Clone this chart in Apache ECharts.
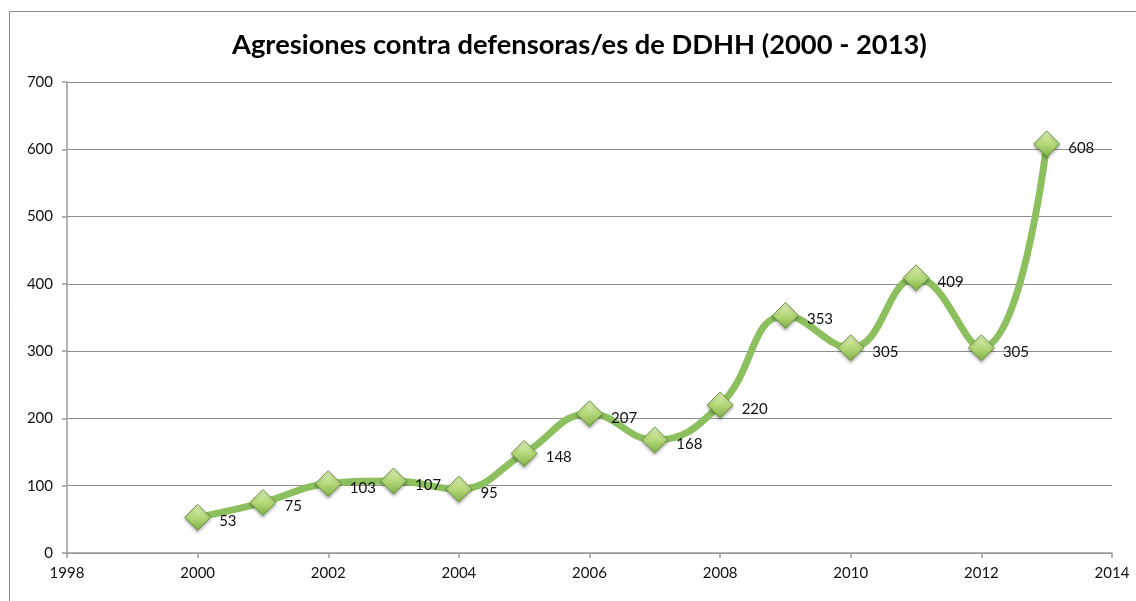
<!DOCTYPE html>
<html>
<head>
<meta charset="utf-8">
<script src="https://cdn.jsdelivr.net/npm/echarts@6/dist/echarts.min.js"></script>
<style>
  html, body { margin: 0; padding: 0; background: #fff; }
  #chart { width: 1136px; height: 601px; }
</style>
</head>
<body>
<div id="chart"></div>
<script>
// datos de la serie
const years = [2000, 2001, 2002, 2003, 2004, 2005, 2006, 2007, 2008, 2009, 2010, 2011, 2012, 2013];
const agresiones = [53, 75, 103, 107, 95, 148, 207, 168, 220, 353, 305, 409, 305, 608];
const titulo = 'Agresiones contra defensoras/es de DDHH (2000 - 2013)';

const chart = echarts.init(document.getElementById('chart'));

const axisGray = '#9a9a9a';

chart.setOption({
  animation: false,
  backgroundColor: '#fff',
  textStyle: { fontFamily: 'Lato, "Open Sans", sans-serif' },
  title: {
    text: titulo,
    left: 227,
    top: 27,
    textStyle: { fontSize: 27.3, fontWeight: 'bold', color: '#000', fontFamily: 'Lato, "Open Sans", sans-serif' }
  },
  graphic: [{
    type: 'rect',
    shape: { x: 9.5, y: 11.5, width: 1140, height: 600 },
    style: { fill: null, stroke: '#8a8a8a', lineWidth: 1 },
    silent: true
  }],
  grid: { left: 67, right: 24, top: 82, bottom: 48 },
  xAxis: {
    type: 'value',
    min: 1998,
    max: 2014,
    interval: 2,
    axisLine: { show: true, lineStyle: { color: axisGray, width: 1.5 } },
    axisTick: { show: true, length: 5, lineStyle: { color: axisGray, width: 1.5 } },
    axisLabel: { color: '#111', fontSize: 15, margin: 13, formatter: v => String(v) },
    splitLine: { show: false }
  },
  yAxis: {
    type: 'value',
    min: 0,
    max: 700,
    interval: 100,
    axisLine: { show: true, lineStyle: { color: axisGray, width: 1.5 } },
    axisTick: { show: true, inside: false, length: 5, lineStyle: { color: axisGray, width: 1.5 } },
    axisLabel: { color: '#111', fontSize: 15, margin: 14 },
    splitLine: { show: true, lineStyle: { color: '#8e8e8e', width: 1.2 } }
  },
  series: [{
    type: 'line',
    data: years.map((y, i) => [y, agresiones[i]]),
    smooth: 0.45,
    lineStyle: { color: '#8cbf5e', width: 7 },
    symbol: 'diamond',
    symbolSize: 26,
    itemStyle: {
      color: new echarts.graphic.LinearGradient(0, 0, 0, 1, [
        { offset: 0, color: '#e4f3c0' },
        { offset: 0.5, color: '#b6d97a' },
        { offset: 1, color: '#7fae44' }
      ]),
      borderColor: '#6b9440',
      borderWidth: 1,
      shadowColor: 'rgba(0,0,0,0.3)',
      shadowBlur: 3,
      shadowOffsetY: 2
    },
    label: {
      show: true,
      position: 'right',
      offset: [2, 4],
      color: '#111',
      fontSize: 15,
      distance: 6
    },
    z: 3
  }]
});
</script>
</body>
</html>
